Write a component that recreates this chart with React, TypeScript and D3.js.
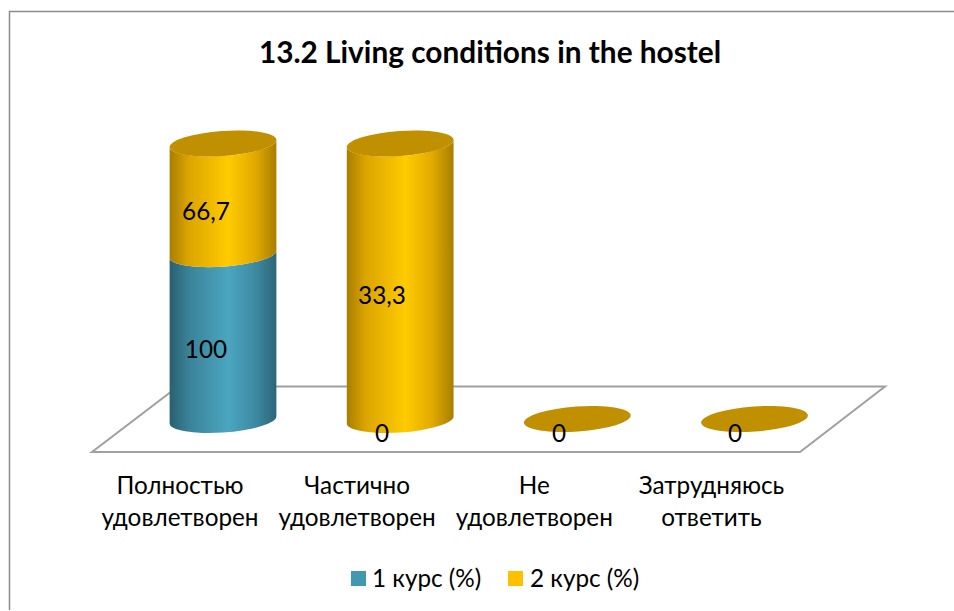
import React from "react";
import * as d3 from "d3";

const categories = [
  ["Полностью", "удовлетворен"],
  ["Частично", "удовлетворен"],
  ["Не", "удовлетворен"],
  ["Затрудняюсь", "ответить"],
];
const course1 = [100, 0, 0, 0];
const course2 = [66.7, 33.3, 0, 0];
const labels1 = ["100", "0", "0", "0"];
const labels2 = ["66,7", "33,3", "0", "0"];
const seriesNames = ["1 курс (%)", "2 курс (%)"];

const W = 954, H = 611;
const FONT = "Lato, 'Noto Sans', sans-serif";
const x = d3.scalePoint<number>().domain([0, 1, 2, 3]).range([223, 754.5]);
// share-of-total axis of the 100% stacked chart
const y = d3.scaleLinear().domain([0, 1]).range([420, 143.5]);
const a = 53.5, b = 12.5, phiDeg = -4;
const phi = (phiDeg * Math.PI) / 180;
const t0 = Math.atan2(-b * Math.sin(phi), a * Math.cos(phi));
const ex = a * Math.cos(t0) * Math.cos(phi) - b * Math.sin(t0) * Math.sin(phi);
const ey = a * Math.cos(t0) * Math.sin(phi) + b * Math.sin(t0) * Math.cos(phi);

function seg(cx: number, y0: number, y1: number) {
  const arc = `A${a} ${b} ${phiDeg}`;
  return `M${cx - ex} ${y0 - ey}${arc} 0 0 ${cx + ex} ${y0 + ey}L${cx + ex} ${y1 + ey}${arc} 0 1 ${cx - ex} ${y1 - ey}Z`;
}

const stackData = categories.map((_, i) => ({ i, a: course1[i], b: course2[i] }));
const stacked = d3.stack<any>().keys(["a", "b"]).offset(d3.stackOffsetExpand)(stackData);

export default function App() {
  return (
    <svg width={W} height={H} style={{ position: "absolute", left: 0, top: 0, background: "#fff" }} fontFamily={FONT}>
      <defs>
        <linearGradient id="g0" x1="0" x2="1" y1="0" y2="0">
          <stop offset="0" stopColor="#28606f" />
          <stop offset="0.18" stopColor="#3a8299" />
          <stop offset="0.55" stopColor="#4aa6bf" />
          <stop offset="0.8" stopColor="#3f8aa3" />
          <stop offset="1" stopColor="#2b6679" />
        </linearGradient>
        <linearGradient id="g1" x1="0" x2="1" y1="0" y2="0">
          <stop offset="0" stopColor="#a87e00" />
          <stop offset="0.18" stopColor="#dca500" />
          <stop offset="0.55" stopColor="#ffcb00" />
          <stop offset="0.8" stopColor="#e2aa00" />
          <stop offset="1" stopColor="#a87e00" />
        </linearGradient>
      </defs>
      <path d="M9.5 610V11.5H954" fill="none" stroke="#8c8c8c" strokeWidth={1.5} />
      <text x={490} y={63} textAnchor="middle" fontSize={29.8} fontWeight={700} fill="#000">13.2 Living conditions in the hostel</text>
      <path d="M92 452H800L885 386.5H178Z" fill="none" stroke="#a0a0a0" strokeWidth={2} />
      {stacked.map((s, k) =>
        s.map((d, i) => {
          const y0 = y(d[0] || 0), y1 = y(d[1] || 0);
          const v = k === 0 ? course1[i] : course2[i];
          if (!v) return null;
          return <path key={`${k}-${i}`} d={seg(x(i)!, y0, y1)} fill={`url(#g${k})`} />;
        })
      )}
      {categories.map((_, i) => {
        const top = d3.sum([course1[i], course2[i]]) > 0 ? y(1) : y(0) - 1;
        return <ellipse key={i} cx={0} cy={0} rx={a} ry={b} fill="#c09000" transform={`translate(${x(i)},${top}) rotate(${phiDeg})`} />;
      })}
      <g fontSize={24.3} fill="#000" textAnchor="middle">
        <text x={206} y={358}>{labels1[0]}</text>
        <text x={206} y={220}>{labels2[0]}</text>
        <text x={382} y={442}>{labels1[1]}</text>
        <text x={382} y={304}>{labels2[1]}</text>
        <text x={559} y={442}>{labels1[2]}</text>
        <text x={735} y={442}>{labels1[3]}</text>
      </g>
      <g fontSize={24.3} fill="#000" textAnchor="middle">
        {categories.map((c, i) => (
          <g key={i}>
            <text x={x(i)! - 43} y={494}>{c[0]}</text>
            <text x={x(i)! - 43} y={526}>{c[1]}</text>
          </g>
        ))}
      </g>
      <rect x={351} y={571} width={15} height={15} fill="#4198af" />
      <text x={372} y={587} fontSize={24.3} fill="#000">{seriesNames[0]}</text>
      <rect x={508} y={571} width={15} height={15} fill="#ffc000" />
      <text x={530} y={587} fontSize={24.3} fill="#000">{seriesNames[1]}</text>
    </svg>
  );
}
